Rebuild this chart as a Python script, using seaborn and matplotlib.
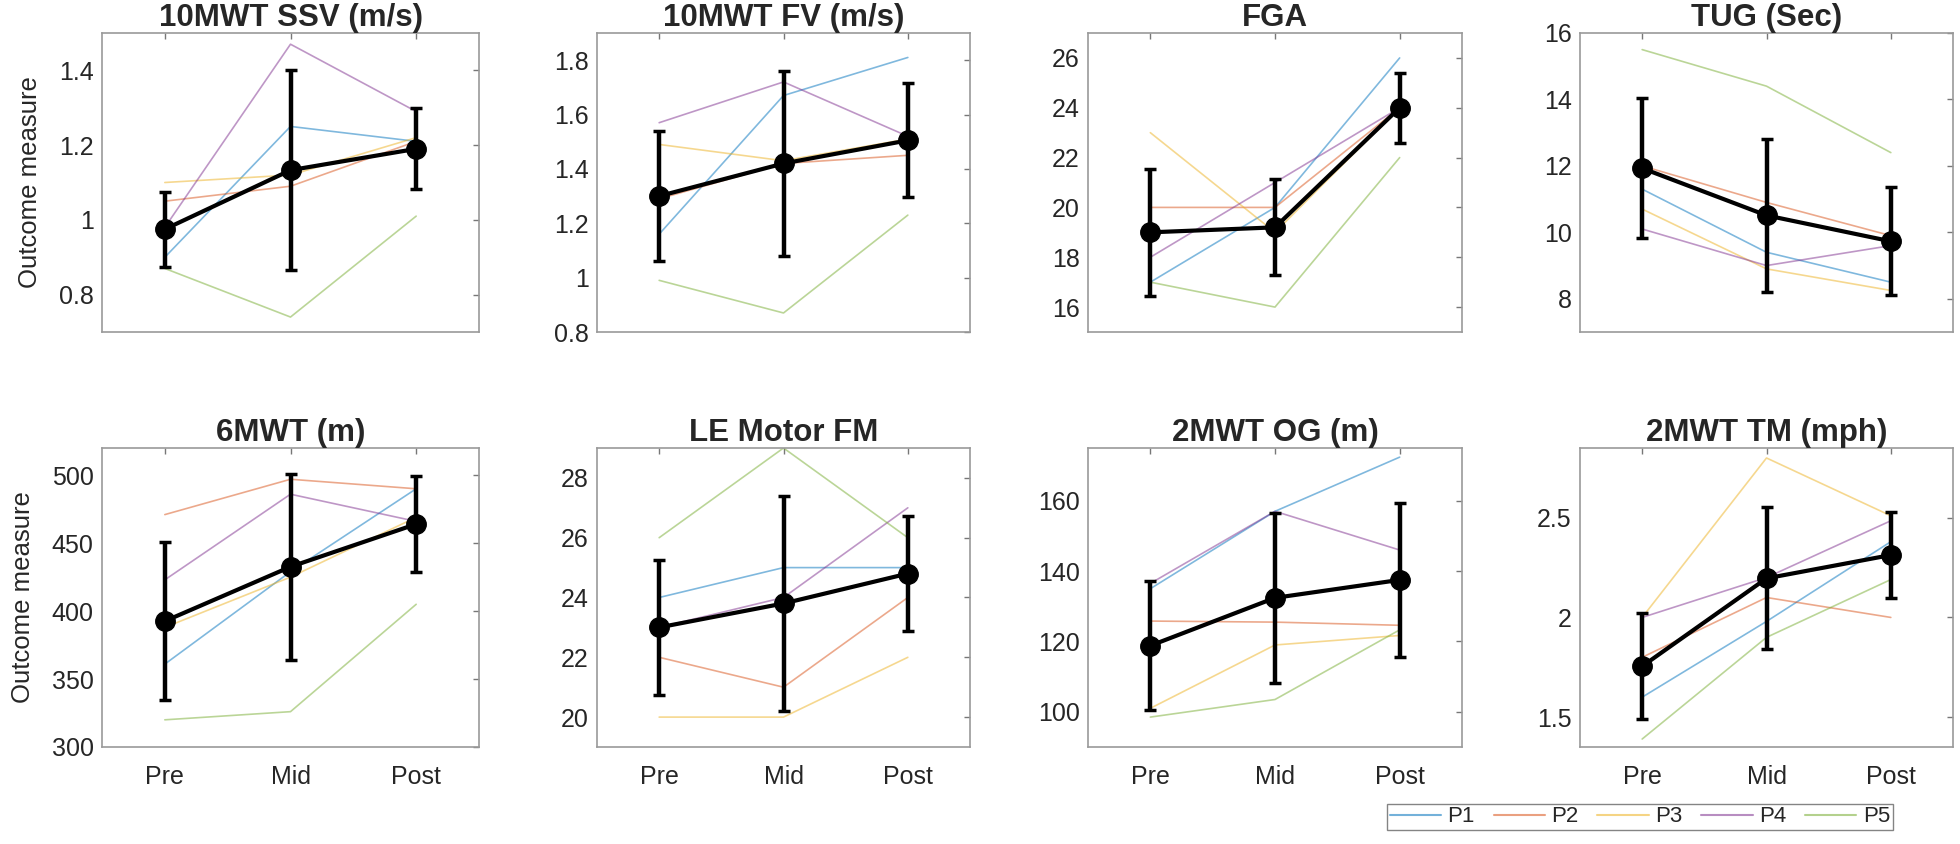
import numpy as np
import pandas as pd
import matplotlib
matplotlib.use("Agg")
import matplotlib.pyplot as plt
from matplotlib.lines import Line2D
from matplotlib.ticker import FuncFormatter
import seaborn as sns

# ---------------- data ----------------
timepoints = ["Pre", "Mid", "Post"]
participants = ["P1", "P2", "P3", "P4", "P5"]
titles = ["10MWT SSV (m/s)", "10MWT FV (m/s)", "FGA", "TUG (Sec)",
          "6MWT (m)", "LE Motor FM", "2MWT OG (m)", "2MWT TM (mph)"]

# individual values: rows P1..P5, columns Pre, Mid, Post
ssv = [[0.90, 1.25, 1.21], [1.05, 1.09, 1.21], [1.10, 1.12, 1.22],
       [0.98, 1.47, 1.29], [0.87, 0.74, 1.01]]
fv = [[1.16, 1.67, 1.81], [1.29, 1.42, 1.45], [1.49, 1.43, 1.51],
      [1.57, 1.72, 1.52], [0.99, 0.87, 1.23]]
fga = [[17, 20, 26], [20, 20, 24], [23, 19, 24], [18, 21, 24], [17, 16, 22]]
tug = [[11.3, 9.4, 8.5], [12.0, 10.9, 9.9], [10.7, 8.9, 8.25],
       [10.1, 9.0, 9.6], [15.5, 14.4, 12.4]]
smwt = [[361, 429, 490], [471, 497, 490], [388, 425, 469],
        [423, 486, 466], [320, 326, 405]]
lefm = [[24, 25, 25], [22, 21, 24], [20, 20, 22], [23, 24, 27], [26, 29, 26]]
og = [[135, 157, 172.4], [125.8, 125.5, 124.6], [101, 119, 121.7],
      [136.5, 157, 146], [98.5, 103.5, 123.3]]
tm = [[1.60, 1.98, 2.38], [1.80, 2.10, 2.00], [2.00, 2.80, 2.51],
      [2.00, 2.20, 2.485], [1.39, 1.90, 2.19]]

# group mean and SD
ssv_mean, ssv_sd = [0.975, 1.133, 1.19], [0.10, 0.267, 0.108]
fv_mean, fv_sd = [1.30, 1.42, 1.505], [0.24, 0.34, 0.21]
fga_mean, fga_sd = [19.0, 19.2, 24.0], [2.55, 1.93, 1.41]
tug_mean, tug_sd = [11.93, 10.51, 9.73], [2.10, 2.30, 1.63]
smwt_mean, smwt_sd = [392.6, 432.6, 464.0], [58.0, 68.5, 35.3]
lefm_mean, lefm_sd = [23.0, 23.8, 24.8], [2.25, 3.58, 1.93]
og_mean, og_sd = [118.8, 132.4, 137.5], [18.3, 24.2, 21.9]
tm_mean, tm_sd = [1.755, 2.196, 2.313], [0.265, 0.356, 0.217]

ylims = [(0.7, 1.5), (0.8, 1.9), (15, 27), (7, 16),
         (300, 520), (19, 29), (90, 175), (1.35, 2.85)]
yticks = [[0.8, 1.0, 1.2, 1.4], [0.8, 1.0, 1.2, 1.4, 1.6, 1.8],
          [16, 18, 20, 22, 24, 26], [8, 10, 12, 14, 16],
          [300, 350, 400, 450, 500], [20, 22, 24, 26, 28],
          [100, 120, 140, 160], [1.5, 2.0, 2.5]]

values = [ssv, fv, fga, tug, smwt, lefm, og, tm]
means = [ssv_mean, fv_mean, fga_mean, tug_mean, smwt_mean, lefm_mean, og_mean, tm_mean]
sds = [ssv_sd, fv_sd, fga_sd, tug_sd, smwt_sd, lefm_sd, og_sd, tm_sd]

colors = ["#0072BD", "#D95319", "#EDB120", "#7E2F8E", "#77AC30"]

# ---------------- style ----------------
sns.set_theme(style="white")
plt.rcParams["font.family"] = ["Liberation Sans", "DejaVu Sans"]

W, H = 1960, 844
fig = plt.figure(figsize=(W / 100, H / 100), dpi=100)
lefts = [102, 597, 1088, 1580]
widths = [377, 373, 374, 373]
rows = [(33, 332), (448, 747)]

xpos = [1, 2, 3]
fmt = FuncFormatter(lambda v, p: f"{v:g}")

for i in range(8):
    r, c = divmod(i, 4)
    top, bot = rows[r]
    ax = fig.add_axes([lefts[c] / W, 1 - bot / H, widths[c] / W, (bot - top) / H])
    df = pd.DataFrame([(participants[k], xpos[j], values[i][k][j])
                       for k in range(5) for j in range(3)],
                      columns=["participant", "time", "value"])
    sns.lineplot(data=df, x="time", y="value", hue="participant",
                 palette=colors, linewidth=1.2, alpha=0.5, legend=False,
                 ax=ax, sort=False)
    ax.errorbar(xpos, means[i], yerr=sds[i], color="black", lw=3,
                marker="o", ms=14, capsize=4, elinewidth=3.2, capthick=2.5,
                zorder=5)
    ax.set_xlim(0.5, 3.5)
    ax.set_ylim(*ylims[i])
    ax.set_yticks(yticks[i])
    ax.yaxis.set_major_formatter(fmt)
    ax.set_xticks(xpos)
    if r == 1:
        ax.set_xticklabels(timepoints)
    else:
        ax.set_xticklabels([])
    ax.set_xlabel("")
    ax.set_ylabel("")
    ax.set_title(titles[i], fontsize=22.5, fontweight="bold", pad=5)
    ax.tick_params(direction="in", top=True, right=True, length=4, width=1,
                   color="#777777", labelsize=18, labelcolor="#262626", pad=6)
    ax.tick_params(axis="x", pad=13)
    for s in ax.spines.values():
        s.set_color("#9a9a9a")
        s.set_linewidth(1.2)
    if c == 0:
        ax.set_ylabel("Outcome measure", fontsize=18.5, color="#262626", labelpad=12)

handles = [Line2D([0], [0], color=col, lw=1.5, alpha=0.55) for col in colors]
leg = fig.legend(handles, participants, ncol=5, loc="lower right",
                 bbox_to_anchor=(1893 / W, 1 - 830 / H), borderaxespad=0,
                 frameon=True, fancybox=False, edgecolor="#666666",
                 handlelength=2.3, columnspacing=0.85, handletextpad=0.3,
                 borderpad=0.12, fontsize=16)
leg.get_frame().set_linewidth(1.0)

fig.savefig("out.png", dpi=100)
